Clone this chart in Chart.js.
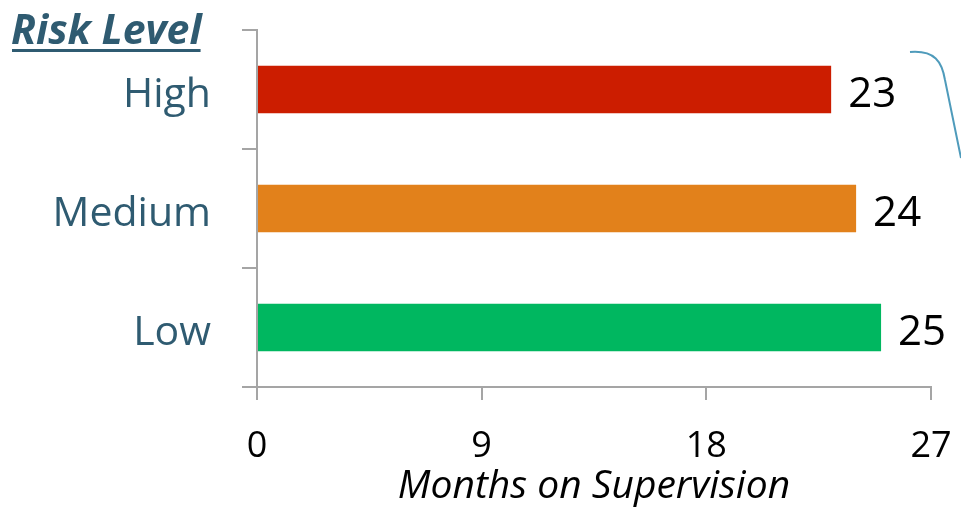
<!DOCTYPE html>
<html>
<head>
<meta charset="utf-8">
<script src="https://cdn.jsdelivr.net/npm/chart.js@4/dist/chart.umd.min.js"></script>
<style>
  html, body { margin: 0; padding: 0; background: #ffffff; }
  #wrap { width: 961px; height: 512px; position: relative; }
</style>
</head>
<body>
<div id="wrap"><canvas id="c" width="961" height="512"></canvas></div>
<script>
const riskLevels = ['High', 'Medium', 'Low'];
const monthsOnSupervision = [23, 24, 25];
const barColors = ['#cc1d00', '#e2811b', '#00b760'];
const xTicks = [0, 9, 18, 27];

const FONT = '"Open Sans", Lato, sans-serif';
const AXIS_GREY = '#a5a5a5';
const LABEL_BLUE = '#2f5b71';

// Value labels at the end of each bar, the "Risk Level" heading and the side bracket
const decorations = {
  id: 'decorations',
  afterDatasetsDraw(chart) {
    const ctx = chart.ctx;
    const meta = chart.getDatasetMeta(0);
    ctx.save();
    ctx.font = '42px ' + FONT;
    ctx.fillStyle = '#000000';
    ctx.textAlign = 'left';
    ctx.textBaseline = 'middle';
    meta.data.forEach((bar, i) => {
      ctx.fillText(String(monthsOnSupervision[i]), bar.x + 17, bar.y + 6);
    });

    // heading
    ctx.font = 'italic bold 41px ' + FONT;
    ctx.fillStyle = LABEL_BLUE;
    ctx.textBaseline = 'alphabetic';
    const heading = 'Risk Level';
    ctx.fillText(heading, 11, 44);
    const w = ctx.measureText(heading).width;
    ctx.fillRect(12, 49, w - 2, 3);

    // bracket curve at the right edge
    ctx.strokeStyle = '#4f9bbb';
    ctx.lineWidth = 2;
    ctx.beginPath();
    ctx.moveTo(910, 52);
    ctx.bezierCurveTo(935, 50, 942, 62, 945, 80);
    ctx.lineTo(961, 158);
    ctx.stroke();
    ctx.restore();
  }
};

new Chart(document.getElementById('c'), {
  type: 'bar',
  data: {
    labels: riskLevels,
    datasets: [{
      data: monthsOnSupervision,
      backgroundColor: barColors,
      borderWidth: 0,
      barPercentage: 0.8,
      categoryPercentage: 0.5
    }]
  },
  options: {
    indexAxis: 'y',
    responsive: false,
    animation: false,
    devicePixelRatio: 1,
    layout: { padding: { top: 30, right: 30, bottom: 0, left: 0 } },
    plugins: { legend: { display: false }, tooltip: { enabled: false } },
    scales: {
      x: {
        min: 0,
        max: 27,
        afterBuildTicks(scale) { scale.ticks = xTicks.map(v => ({ value: v })); },
        afterFit(scale) {
          scale.height = 125;
          scale.paddingLeft = 0;
          scale.paddingRight = 0;
        },
        border: { color: AXIS_GREY, width: 2 },
        grid: { drawOnChartArea: false, drawTicks: true, tickLength: 13, color: AXIS_GREY, lineWidth: 2 },
        ticks: { color: '#000000', font: { family: FONT, size: 36 }, padding: 25, maxRotation: 0 },
        title: {
          display: true,
          text: 'Months on Supervision',
          color: '#000000',
          font: { family: FONT, size: 39, style: 'italic' },
          padding: { top: 0, bottom: 2 }
        }
      },
      y: {
        afterFit(scale) {
          scale.width = 257;
          scale.paddingTop = 0;
          scale.paddingBottom = 0;
        },
        border: { color: AXIS_GREY, width: 2 },
        grid: { drawOnChartArea: false, drawTicks: true, tickLength: 15, color: AXIS_GREY, lineWidth: 2, offset: true },
        ticks: { color: LABEL_BLUE, font: { family: FONT, size: 41 }, padding: 31, labelOffset: 6 }
      }
    }
  },
  plugins: [decorations]
});
</script>
</body>
</html>
